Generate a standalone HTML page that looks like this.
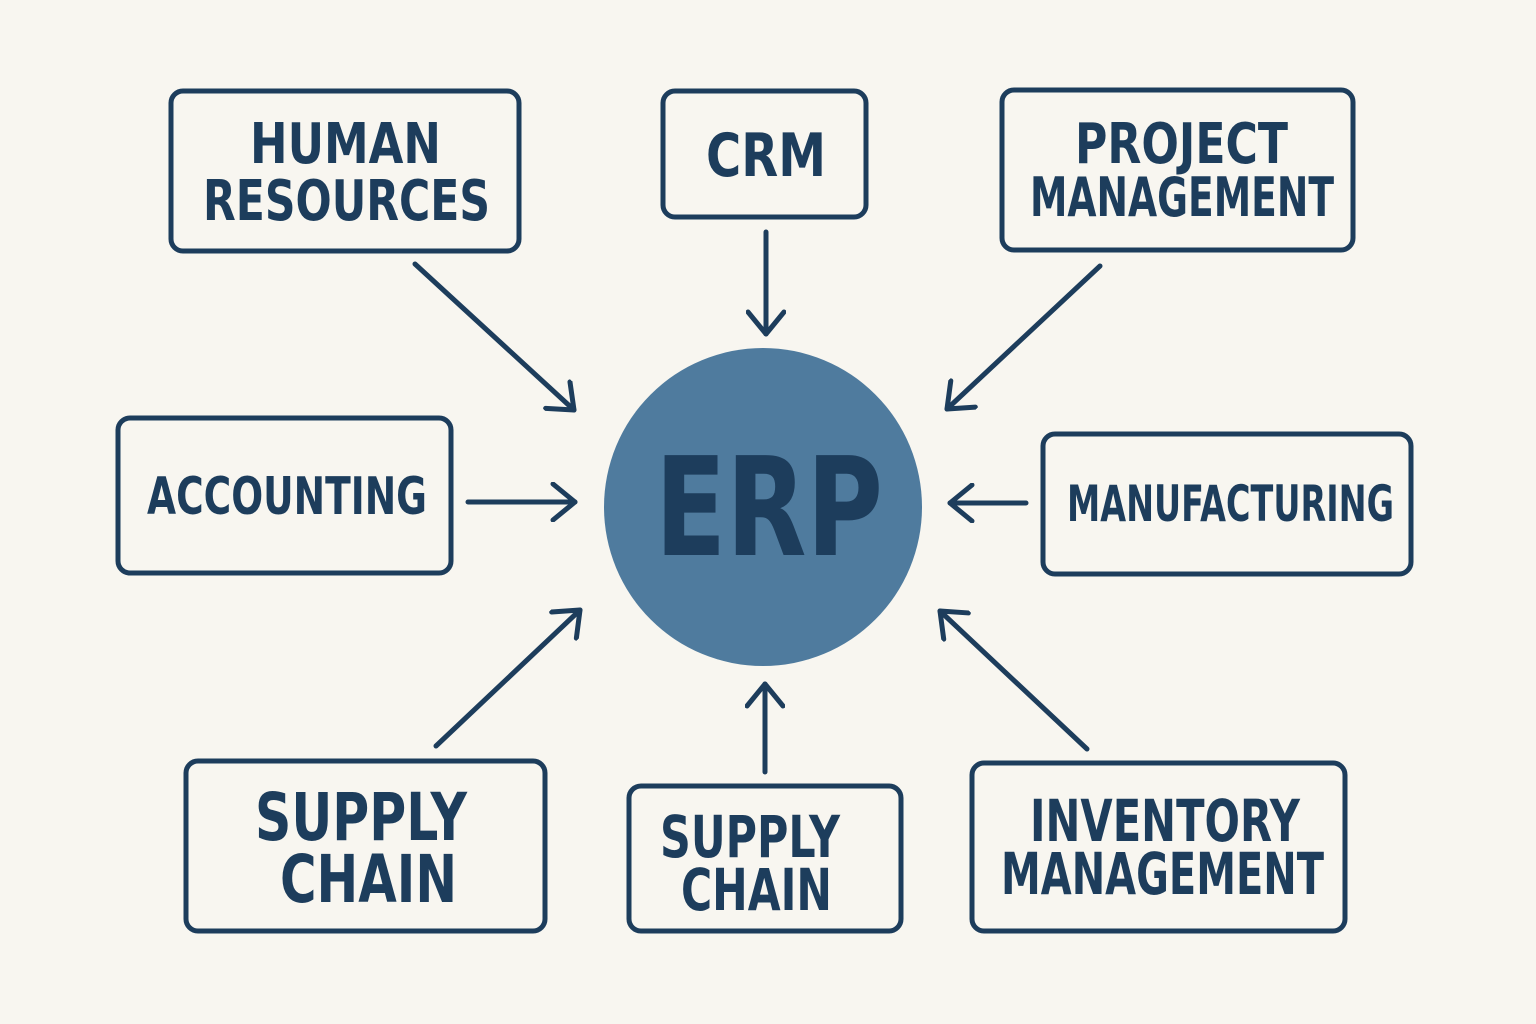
<!DOCTYPE html>
<html><head><meta charset="utf-8"><style>
html,body{margin:0;padding:0;background:#f8f6f0;}
svg{display:block;}
text{font-family:"DejaVu Sans","Liberation Sans",sans-serif;font-weight:bold;fill:#1d3d5c;}
</style></head><body>
<svg width="1536" height="1024" viewBox="0 0 1536 1024" xmlns="http://www.w3.org/2000/svg">
<rect width="1536" height="1024" fill="#f8f6f0"/>
<defs>
<marker id="ah" markerUnits="userSpaceOnUse" markerWidth="40" markerHeight="40" refX="30" refY="20" orient="auto">
<path d="M8 2 L30 20 L8 38" fill="none" stroke="#1d3d5c" stroke-width="5" stroke-linecap="round" stroke-linejoin="round"/>
</marker>
</defs>
<g fill="none" stroke="#1d3d5c" stroke-width="5">
<rect x="171" y="91" width="348" height="160" rx="12"/>
<rect x="663" y="91" width="203" height="126" rx="12"/>
<rect x="1002" y="90" width="351" height="160" rx="12"/>
<rect x="118" y="418" width="333" height="155" rx="12"/>
<rect x="1043" y="434" width="368" height="140" rx="12"/>
<rect x="186" y="761" width="359" height="170" rx="12"/>
<rect x="629" y="786" width="272" height="145" rx="12"/>
<rect x="972" y="763" width="373" height="168" rx="12"/>
</g>
<g stroke="#1d3d5c" stroke-width="5" stroke-linecap="round" marker-end="url(#ah)">
<line x1="415" y1="264" x2="574" y2="410"/>
<line x1="766" y1="232" x2="766" y2="334"/>
<line x1="1100" y1="266" x2="947" y2="409"/>
<line x1="468" y1="502" x2="575" y2="502"/>
<line x1="1026" y1="503" x2="950" y2="503"/>
<line x1="436" y1="746" x2="580" y2="610"/>
<line x1="765" y1="772" x2="765" y2="684"/>
<line x1="1087" y1="749" x2="940" y2="611"/>
</g>
<circle cx="763" cy="507" r="159" fill="#4f7b9e"/>
<text x="655" y="555" font-size="137" textLength="228" lengthAdjust="spacingAndGlyphs">ERP</text>
<text x="250" y="163" font-size="56" textLength="191" lengthAdjust="spacingAndGlyphs">HUMAN</text>
<text x="203" y="220" font-size="56" textLength="287" lengthAdjust="spacingAndGlyphs">RESOURCES</text>
<text x="706" y="176" font-size="60" textLength="120" lengthAdjust="spacingAndGlyphs">CRM</text>
<text x="1075" y="163" font-size="56" textLength="213" lengthAdjust="spacingAndGlyphs">PROJECT</text>
<text x="1030" y="216" font-size="54" textLength="304" lengthAdjust="spacingAndGlyphs">MANAGEMENT</text>
<text x="147" y="514" font-size="52" textLength="280" lengthAdjust="spacingAndGlyphs">ACCOUNTING</text>
<text x="1067" y="521" font-size="50" textLength="327" lengthAdjust="spacingAndGlyphs">MANUFACTURING</text>
<text x="255" y="840" font-size="66" textLength="212" lengthAdjust="spacingAndGlyphs">SUPPLY</text>
<text x="280" y="902" font-size="66" textLength="177" lengthAdjust="spacingAndGlyphs">CHAIN</text>
<text x="660" y="857" font-size="58" textLength="180" lengthAdjust="spacingAndGlyphs">SUPPLY</text>
<text x="681" y="910" font-size="58" textLength="151" lengthAdjust="spacingAndGlyphs">CHAIN</text>
<text x="1030" y="841" font-size="58" textLength="270" lengthAdjust="spacingAndGlyphs">INVENTORY</text>
<text x="1001" y="894" font-size="58" textLength="323" lengthAdjust="spacingAndGlyphs">MANAGEMENT</text>
</svg>
</body></html>
